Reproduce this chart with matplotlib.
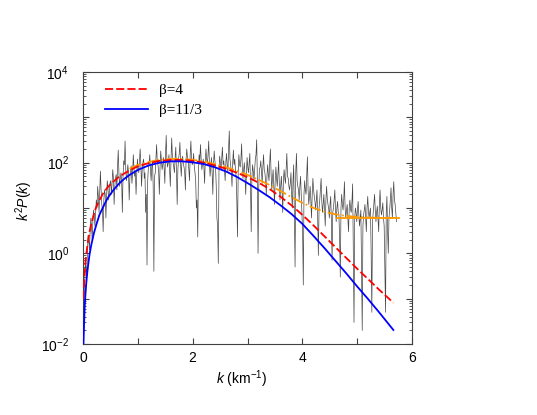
import numpy as np
import matplotlib
matplotlib.use("Agg")
import matplotlib.pyplot as plt
from matplotlib.ticker import FixedLocator, FuncFormatter, NullFormatter

plt.rcParams['font.family'] = ['Liberation Sans', 'DejaVu Sans']
plt.rcParams['mathtext.fontset'] = 'custom'
plt.rcParams['mathtext.rm'] = 'Liberation Sans'
plt.rcParams['mathtext.it'] = 'Liberation Sans:italic'

# ---- data ----
noise_k_start = 0.005
noise_k_step = 0.0125
noise_vals = [
    0.05, 0.08, 0.2, 0.6, 0.5, 0.3, 1.0, 2.5, 2.0, 1.2, 3, 6, 4, 2, 5, 9, 7, 4, 8, 15,
    10, 30, 18, 8, 22, 65, 25, 12, 9, 3, 15, 25, 20, 6, 18, 40, 28, 15, 22, 35,
    40, 20, 35, 70, 45, 12, 30, 45, 55, 25, 80, 190, 60, 30, 45, 60, 40, 8, 50, 110,
    90, 300, 70, 40, 55, 90, 60, 15, 45, 70, 85, 35, 60, 150, 75, 50, 65, 20, 55, 120,
    75, 60, 110, 200, 90, 30, 70, 100, 120, 45, 60, 8, 20, 0.55, 40, 80, 95, 150, 70, 40,
    85, 110, 30, 0.4, 50, 60, 120, 250, 100, 90, 60, 20, 80, 180, 110, 70, 90, 130, 75, 35,
    150, 400, 110, 80, 100, 150, 70, 30, 120, 350, 140, 100, 80, 60, 130, 220, 60, 12, 70, 120,
    160, 280, 90, 50, 110, 140, 95, 80, 60, 25, 120, 200, 130, 110, 70, 40, 150, 300, 110, 90,
    100, 160, 80, 60, 40, 10, 15, 2.3, 60, 150, 110, 250, 120, 70, 90, 120, 80, 35, 110, 200,
    120, 90, 150, 300, 100, 50, 80, 130, 60, 20, 90, 180, 110, 80, 30, 6, 4, 0.6, 70, 140,
    100, 70, 130, 220, 90, 110, 70, 40, 100, 160, 85, 60, 200, 500, 120, 90, 60, 30, 100, 190,
    90, 120, 70, 50, 15, 2.3, 60, 150, 90, 80, 120, 260, 80, 45, 70, 100, 50, 20, 60, 130,
    80, 60, 100, 160, 30, 3, 45, 90, 65, 40, 70, 120, 150, 320, 40, 1.0, 30, 70, 80, 110,
    60, 35, 80, 150, 70, 60, 40, 20, 50, 90, 55, 40, 100, 200, 60, 25, 45, 70, 30, 12,
    40, 80, 45, 30, 60, 110, 35, 15, 30, 50, 25, 8, 40, 70, 45, 35, 80, 160, 50, 45,
    30, 25, 35, 60, 20, 10, 40, 90, 6, 0.5, 60, 160, 40, 30, 25, 15, 30, 50, 20, 8,
    3, 0.2, 20, 40, 25, 20, 50, 135, 25, 12, 18, 30, 15, 6, 20, 45, 25, 18, 14, 9,
    15, 25, 6, 0.9, 10, 15, 25, 45, 14, 8, 12, 20, 9, 4, 15, 30, 16, 12, 10, 6,
    12, 18, 5, 0.7, 8, 10, 15, 25, 9, 5, 10, 14, 8, 7, 2, 0.3, 10, 20, 12, 9,
    15, 38, 10, 6, 9, 12, 6, 3, 10, 15, 9, 8, 14, 34, 1, 0.03, 6, 10, 8, 5,
    9, 14, 7, 4, 6, 9, 0.5, 0.02, 4, 7, 9, 12, 6, 3, 10, 18, 9, 6, 8, 10,
    1, 0.05, 5, 8, 12, 20, 9, 5, 8, 11, 6, 3, 12, 25, 10, 7, 9, 13, 6, 4,
    0.5, 0.05, 8, 18, 3, 1.0, 6, 9, 15, 28, 10, 6, 20, 38, 15, 12, 8, 5,
]

red_k = [0.003, 0.015, 0.03, 0.045, 0.06, 0.08, 0.10, 0.12, 0.15, 0.20, 0.24,
         0.30, 0.37, 0.45, 0.55, 0.65, 0.75, 0.85, 1.0, 1.2, 1.4, 1.6, 1.8,
         2.0, 2.2, 2.4, 2.6, 2.8, 3.0, 3.2, 3.4, 3.6, 3.8, 4.0, 4.2, 4.4,
         4.6, 4.8, 5.0, 5.2, 5.4, 5.66]
red_v = [0.100, 0.178, 0.355, 0.631, 0.955, 1.48, 2.14, 3.02, 4.47, 7.41, 10.5,
         14.8, 21.4, 28.8, 38.0, 47.9, 57.5, 67.6, 83.2, 97.7, 110, 115, 115,
         110, 100, 87.1, 74.1, 60.3, 47.9, 36.3, 26.3, 17.8, 11.5, 7.08, 4.17,
         2.40, 1.38, 0.794, 0.457, 0.269, 0.158, 0.0813]

blue_k = [0.008, 0.02, 0.03, 0.045, 0.06, 0.08, 0.10, 0.12, 0.15, 0.20, 0.25,
          0.30, 0.37, 0.45, 0.55, 0.65, 0.75, 0.85, 1.0, 1.2, 1.4, 1.6, 1.8,
          2.0, 2.2, 2.4, 2.6, 2.8, 3.0, 3.2, 3.4, 3.6, 3.8, 4.0, 4.2, 4.4,
          4.6, 4.8, 5.0, 5.2, 5.4, 5.66]
blue_v = [0.010, 0.0282, 0.0631, 0.126, 0.224, 0.398, 0.631, 0.955, 1.51, 2.82,
          4.57, 7.08, 10.7, 16.6, 24.5, 33.9, 43.7, 53.7, 69.2, 87.1, 100, 107,
          107, 102, 93.3, 79.4, 64.6, 49.0, 35.5, 25.1, 17.4, 11.5, 7.41, 4.47,
          2.45, 1.32, 0.692, 0.363, 0.186, 0.0977, 0.0501, 0.0204]

orange_k = [0.85, 1.0, 1.2, 1.4, 1.6, 1.8, 2.0, 2.2, 2.4, 2.6, 2.8, 3.0, 3.2,
            3.4, 3.6, 3.8, 4.0, 4.2, 4.4, 4.6, 4.8, 5.0, 5.2, 5.4, 5.66]
orange_v = [73.5, 89.1, 103.6, 115.9, 120.9, 120.9, 115.9, 105.9, 93.0, 80.0,
            66.2, 53.8, 42.2, 32.2, 23.7, 17.4, 13.0, 10.1, 8.30, 7.28, 6.69,
            6.36, 6.17, 6.06, 5.98]

floor_k = [4.63, 5.77]
floor_v = [5.9, 5.9]

legend_labels = ['β=4', 'β=11/3']
xtick_vals = [0, 1, 2, 3, 4, 5, 6]
ytick_exps = [-2, -1, 0, 1, 2, 3, 4]

# ---- figure ----
fig = plt.figure(figsize=(5.37, 4.15), dpi=100)
ax = fig.add_axes([83/537, 71/415, 329/537, 272/415])

noise_k = noise_k_start + noise_k_step * np.arange(len(noise_vals))
ax.plot(noise_k, noise_vals, color='0.15', lw=0.5, alpha=0.85, zorder=1)
ax.plot(orange_k, orange_v, color='#ff9900', lw=1.3, ls='-.', zorder=2)
ax.plot(floor_k, floor_v, color='#ff9900', lw=1.3, zorder=2)
l1, = ax.plot(red_k, red_v, color='#ff0000', lw=1.3, ls=(0, (4.5, 1.7)), zorder=3)
l2, = ax.plot(blue_k, blue_v, color='#0000ff', lw=1.3, zorder=4)

ax.set_yscale('log')
ax.set_xlim(0, 6)
ax.set_ylim(1e-2, 1e4)

ax.xaxis.set_major_locator(FixedLocator(xtick_vals))
ax.xaxis.set_major_formatter(FuncFormatter(lambda v, p: f"{int(round(v))}" if int(round(v)) % 2 == 0 else ""))
ax.yaxis.set_major_locator(FixedLocator([10.0**e for e in ytick_exps]))
ax.yaxis.set_major_formatter(FuncFormatter(
    lambda v, p: (r"$10^{%d}$" % int(round(np.log10(v)))) if int(round(np.log10(v))) % 2 == 0 else ""))
minors = [m * 10.0**e for e in ytick_exps[:-1] for m in range(2, 10)]
ax.yaxis.set_minor_locator(FixedLocator(minors))
ax.yaxis.set_minor_formatter(NullFormatter())

ax.tick_params(which='both', direction='in', top=True, right=True, colors='0.25',
               labelcolor='black', labelsize=10)
ax.tick_params(axis='y', which='major', length=4, width=0.8, pad=10)
ax.tick_params(axis='y', which='minor', length=2, width=0.6)
ax.tick_params(axis='x', which='major', length=4, width=0.8, pad=5)
for s in ax.spines.values():
    s.set_color('0.25')
    s.set_linewidth(0.8)

ax.set_xlabel(r"$k$ (km$^{-1}$)", fontsize=10)
ax.xaxis.set_label_coords(0.483, -0.088)
ax.set_ylabel(r"$k^2P(k)$", fontsize=10)
ax.yaxis.set_label_coords(-0.146, 0.526)

leg = ax.legend([l1, l2], legend_labels, loc='upper left', bbox_to_anchor=(0.067, 0.958),
                frameon=False, borderpad=0, borderaxespad=0, handlelength=2.8,
                handletextpad=0.7, labelspacing=0.4,
                prop={'family': 'Liberation Serif', 'size': 11})

fig.savefig('out.png', dpi=100)
